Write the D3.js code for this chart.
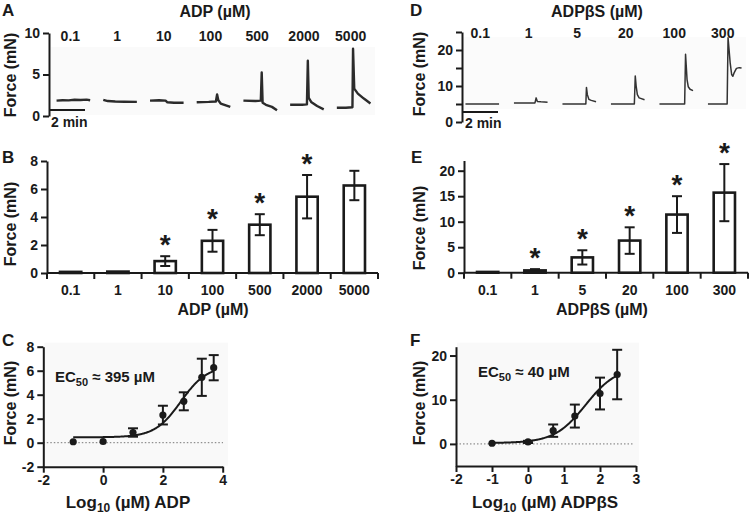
<!DOCTYPE html>
<html><head><meta charset="utf-8">
<script src="https://cdn.jsdelivr.net/npm/d3@7"></script>
<style>
body{margin:0;background:#fff;}
svg{font-family:"Liberation Sans",Arial,Helvetica,sans-serif;font-weight:bold;}
</style></head><body>
<svg id="fig" width="750" height="514"></svg>
<script>
// ---------- DATA ----------
const adpConc   = ["0.1","1","10","100","500","2000","5000"];
const adpMean   = [0.08, 0.1, 0.85, 2.3, 3.45, 5.45, 6.25];
const adpSem    = [0, 0, 0.35, 0.78, 0.75, 1.55, 1.05];
const adpSig    = [false,false,true,true,true,true,false];
const adpLog    = [-1, 0, 1, 2, 2.699, 3.301, 3.699];

const adpbsConc = ["0.1","1","5","20","100","300"];
const adpbsMean = [0.15, 0.45, 3.0, 6.3, 11.4, 15.7];
const adpbsSem  = [0, 0.25, 1.4, 2.6, 3.6, 5.6];
const adpbsSig  = [false,true,true,true,true,true];
const adpbsLog  = [-1, 0, 0.699, 1.301, 2, 2.477];

// fitted concentration-response parameters (EC50 in log10 uM)
const adpFit   = {bottom:0.45, top:6.4, logEC50:2.6, hill:1, from:-1, to:3.699};
const adpbsFit = {bottom:0.2, top:17.5, logEC50:1.602, hill:1, from:-1, to:2.477};

// representative force traces: [time (s), force (mN)]
const adpTraces = [
  [[0,1.85],[20,1.9],[40,1.88],[60,1.95],[80,1.92],[100,1.97],[112,1.9]],
  [[0,1.95],[15,1.8],[40,1.75],[70,1.72],[112,1.7]],
  [[0,1.85],[30,1.9],[52,1.85],[58,1.65],[80,1.6],[112,1.6]],
  [[0,1.65],[40,1.7],[64,1.75],[68,2.6],[72,1.9],[80,1.5],[112,1.1]],
  [[0,1.85],[40,1.8],[58,1.85],[61,5.25],[64,1.6],[75,1.35],[95,1.1],[112,0.7]],
  [[0,1.35],[40,1.35],[56,1.4],[59,6.65],[62,2.2],[70,1.7],[90,1.2],[112,0.8]],
  [[0,1.0],[30,1.0],[52,1.05],[54,8.1],[58,3.3],[70,2.7],[90,2.1],[112,1.5]]
];
const adpbsTraces = [
  [[0,5.0],[112,5.0]],
  [[0,5.3],[70,5.3],[74,6.7],[78,5.7],[90,5.6],[112,5.5]],
  [[0,5.0],[78,5.0],[80,9.6],[83,7.6],[88,6.3],[96,6.0],[112,5.6]],
  [[0,5.0],[78,5.0],[81,12.8],[84,10.0],[88,7.6],[94,6.7],[112,6.2]],
  [[0,5.0],[84,5.0],[87,18.8],[89,16.0],[92,11.8],[96,9.8],[102,9.1],[112,8.7]],
  [[0,5.0],[64,5.0],[67,23.4],[70,20.5],[74,16.5],[79,13.2],[83,12.7],[88,13.8],[95,14.9],[104,15.1],[112,15.0]]
];

const ink = "#1a1a1a";
const svg = d3.select("#fig");

function txt(x, y, s, size, anchor, g) {
  return (g||svg).append("text").attr("x", x).attr("y", y).attr("font-size", size)
    .attr("text-anchor", anchor||"start").attr("fill", ink).text(s);
}
function ylabel(x, y, s, size) {
  svg.append("text").attr("transform", `translate(${x},${y}) rotate(-90)`)
    .attr("text-anchor","middle").attr("font-size", size||16).attr("fill", ink).text(s);
}
function styleAxis(g, fs) {
  g.selectAll("path.domain").attr("stroke", ink).attr("stroke-width", 2);
  g.selectAll(".tick line").attr("stroke", ink).attr("stroke-width", 2);
  g.selectAll(".tick text").attr("fill", ink).attr("font-size", fs||14)
    .attr("font-family", "Liberation Sans, Arial, sans-serif").attr("font-weight","bold");
}
function yAxis(scale, x, ticks, labeled) {
  const g = svg.append("g").attr("transform", `translate(${x},0)`)
    .call(d3.axisLeft(scale).tickValues(ticks).tickSize(6).tickSizeOuter(0).tickPadding(3)
      .tickFormat(d => (!labeled || labeled.includes(d)) ? String(d) : ""));
  styleAxis(g);
  return g;
}

// panel letters
[["A",2,16],["D",410,16],["B",2,163],["E",411,163],["C",2,346],["F",410,346]]
  .forEach(([l,x,y]) => txt(x,y,l,17));

// ---------- A: ADP traces ----------
(function(){
  const y = d3.scaleLinear().domain([0,10]).range([116,33]);
  const x = d3.scaleBand().domain(adpConc).range([50,377]);
  const t = d3.scaleLinear().domain([0,120]).range([0,36]);
  svg.append("rect").attr("x",51).attr("y",47).attr("width",324).attr("height",68).attr("fill","#fafafa");
  yAxis(y, 49, [0,5,10]);
  ylabel(16, 75, "Force (mN)");
  txt(215, 17, "ADP (µM)", 16, "middle");
  const line = d3.line().x(d => d[0]).y(d => d[1]);
  adpConc.forEach((c,i) => {
    const cx = x(c) + x.bandwidth()/2;
    txt(cx - 3, 41, c, 14, "middle");
    svg.append("path").attr("d", line(adpTraces[i].map(p => [cx + t(p[0]) - t(56), y(p[1])])))
      .attr("fill","none").attr("stroke","#2b2b2b").attr("stroke-width",2.4).attr("stroke-linejoin","round");
  });
  svg.append("line").attr("x1",49).attr("x2",49 + t(120)).attr("y1",110).attr("y2",110)
    .attr("stroke",ink).attr("stroke-width",1.8);
  txt(51, 127, "2 min", 14);
})();

// ---------- D: ADPbetaS traces ----------
(function(){
  const y = d3.scaleLinear().domain([0,25]).range([122,32]);
  const x = d3.scaleBand().domain(adpbsConc).range([458,749]);
  const t = d3.scaleLinear().domain([0,120]).range([0,36]);
  svg.append("rect").attr("x",463).attr("y",37).attr("width",283).attr("height",72).attr("fill","#fbfbfb");
  yAxis(y, 462, [0,5,10,15,20,25], [0,10,20]);
  ylabel(425, 74, "Force (mN)");
  txt(597, 17, "ADPβS (µM)", 16, "middle");
  const line = d3.line().x(d => d[0]).y(d => d[1]);
  adpbsConc.forEach((c,i) => {
    const cx = x(c) + x.bandwidth()/2;
    txt(cx - 2, 38, c, 14, "middle");
    svg.append("path").attr("d", line(adpbsTraces[i].map(p => [cx + t(p[0]) - t(56), y(p[1])])))
      .attr("fill","none").attr("stroke","#333").attr("stroke-width",1.5).attr("stroke-linejoin","round");
  });
  svg.append("line").attr("x1",462).attr("x2",462 + t(120)).attr("y1",112).attr("y2",112)
    .attr("stroke",ink).attr("stroke-width",1.8);
  txt(465, 128, "2 min", 14);
})();

// ---------- bar panels ----------
function barPanel(cats, mean, sem, sig, xr, yDomain, yr, yTicks, xLabel, xLabelX, yLabelX, yLabelY) {
  const y = d3.scaleLinear().domain(yDomain).range(yr);
  const x = d3.scaleBand().domain(cats).range(xr).paddingInner(0.55).paddingOuter(0.275);
  yAxis(y, xr[0], yTicks);
  const y0 = y(0);
  svg.append("line").attr("x1", xr[0]).attr("x2", xr[1]).attr("y1", y0).attr("y2", y0)
    .attr("stroke", ink).attr("stroke-width", 2);
  d3.range(cats.length + 1).forEach(i => {
    const bx = xr[0] + i * x.step();
    svg.append("line").attr("x1", bx).attr("x2", bx).attr("y1", y0).attr("y2", y0 + 6)
      .attr("stroke", ink).attr("stroke-width", 2);
  });
  cats.forEach((c,i) => {
    const cx = x(c) + x.bandwidth()/2;
    svg.append("rect").attr("x", x(c)).attr("width", x.bandwidth())
      .attr("y", y(mean[i])).attr("height", Math.max(0, y0 - y(mean[i])))
      .attr("fill", "#fff").attr("stroke", ink).attr("stroke-width", 2.6);
    if (sem[i] > 0) {
      const t = y(mean[i] + sem[i]), b = y(mean[i] - sem[i]);
      svg.append("line").attr("x1",cx).attr("x2",cx).attr("y1",t).attr("y2",b).attr("stroke",ink).attr("stroke-width",2);
      [t,b].forEach(v => svg.append("line").attr("x1",cx-5).attr("x2",cx+5).attr("y1",v).attr("y2",v).attr("stroke",ink).attr("stroke-width",2));
    }
    if (sig[i]) txt(cx, y(mean[i] + sem[i]) - 2, "*", 28, "middle");
    txt(cx, 295, c, 14, "middle");
  });
  txt(xLabelX, 315, xLabel, 16, "middle");
  ylabel(yLabelX, yLabelY, "Force (mN)");
}
barPanel(adpConc, adpMean, adpSem, adpSig, [47,378], [0,8], [273,161], [0,2,4,6,8], "ADP (µM)", 213, 16, 224);
barPanel(adpbsConc, adpbsMean, adpbsSem, adpbsSig, [464,748], [0,22], [272.7,160.5], [0,5,10,15,20], "ADPβS (µM)", 602, 425, 228);

// ---------- curve panels ----------
function curvePanel(logs, mean, sem, fit, xDom, xr, yDom, yr, yTicks, xTicks, xLabelX, yLabelX, ec50Text, ecX, ecY, bgRight) {
  const x = d3.scaleLinear().domain(xDom).range(xr);
  const y = d3.scaleLinear().domain(yDom).range(yr);
  svg.append("rect").attr("x", xr[0]+1).attr("y", yr[1]-4).attr("width", bgRight - xr[0]).attr("height", yr[0]-yr[1]+3).attr("fill","#f9f9f9");
  svg.append("line").attr("x1", xr[0]).attr("x2", bgRight - 4).attr("y1", y(0)).attr("y2", y(0))
    .attr("stroke", "#777").attr("stroke-width", 1).attr("stroke-dasharray", "1.5,2");
  yAxis(y, xr[0], yTicks);
  const gx = svg.append("g").attr("transform", `translate(0,${yr[0]})`)
    .call(d3.axisBottom(x).tickValues(xTicks).tickSize(6).tickSizeOuter(0).tickPadding(2).tickFormat(d => String(d)));
  styleAxis(gx);
  const f = v => fit.bottom + (fit.top - fit.bottom) / (1 + Math.pow(10, (fit.logEC50 - v) * fit.hill));
  const xs = d3.range(fit.from, fit.to + 0.0001, 0.02);
  svg.append("path").attr("d", d3.line().x(v => x(v)).y(v => y(f(v)))(xs))
    .attr("fill","none").attr("stroke", ink).attr("stroke-width", 2);
  logs.forEach((lx,i) => {
    const cx = x(lx);
    if (sem[i] > 0) {
      const t = y(mean[i] + sem[i]), b = y(mean[i] - sem[i]);
      svg.append("line").attr("x1",cx).attr("x2",cx).attr("y1",t).attr("y2",b).attr("stroke",ink).attr("stroke-width",2);
      [t,b].forEach(v => svg.append("line").attr("x1",cx-5).attr("x2",cx+5).attr("y1",v).attr("y2",v).attr("stroke",ink).attr("stroke-width",2));
    }
    svg.append("circle").attr("cx", cx).attr("cy", y(mean[i])).attr("r", 3.6).attr("fill", ink);
  });
  const ec = txt(ecX, ecY, "", 15);
  ec.append("tspan").text("EC");
  ec.append("tspan").attr("font-size", 11).attr("dy", 4).text("50");
  ec.append("tspan").attr("dy", -4).text(" ≈ " + ec50Text);
  ylabel(yLabelX, 403, "Force (mN)");
  return x;
}
curvePanel(adpLog, adpMean, adpSem, adpFit, [-2,4], [43.3,222.7], [-2,8], [466.7,346.7], [-2,0,2,4,6,8], [-2,0,2,4], 128, 16, "395 µM", 55, 382, 227);
curvePanel(adpbsLog, adpbsMean, adpbsSem, adpbsFit, [-2,3], [456,636], [-5,22], [466,346.7], [0,10,20], [-2,-1,0,1,2,3], 545, 425, "40 µM", 478, 377, 638);

function logLabel(cx, y, rest) {
  const t = txt(cx, y, "", 17, "middle");
  t.append("tspan").text("Log");
  t.append("tspan").attr("font-size", 12).attr("dy", 4).text("10");
  t.append("tspan").attr("dy", -4).text(" (µM) " + rest);
}
logLabel(128, 508, "ADP");
logLabel(545, 508, "ADPβS");
</script>
</body></html>
